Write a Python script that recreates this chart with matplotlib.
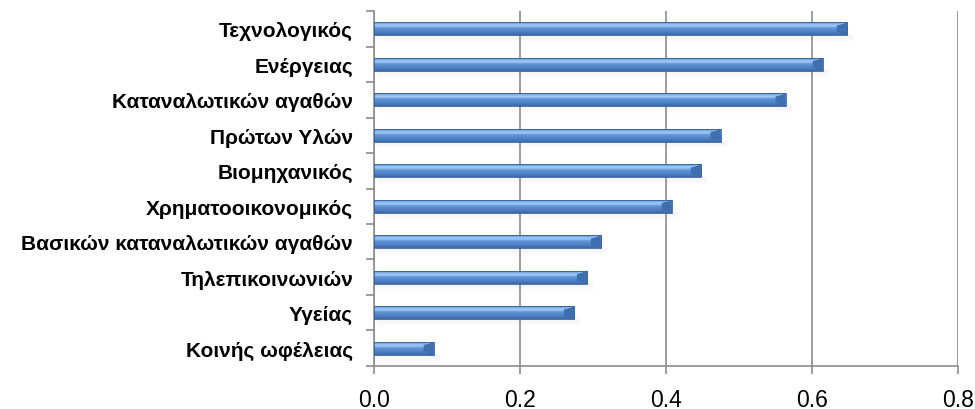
import numpy as np
import matplotlib
matplotlib.use("Agg")
import matplotlib.pyplot as plt
from matplotlib.colors import LinearSegmentedColormap
from matplotlib.patches import Polygon

# sectors, top to bottom
sectors = ["Τεχνολογικός", "Ενέργειας", "Καταναλωτικών αγαθών", "Πρώτων Υλών",
           "Βιομηχανικός", "Χρηματοοικονομικός", "Βασικών καταναλωτικών αγαθών",
           "Τηλεπικοινωνιών", "Υγείας", "Κοινής ωφέλειας"]
values = [0.648, 0.615, 0.564, 0.475, 0.448, 0.408, 0.311, 0.292, 0.274, 0.082]
xticks = [0.0, 0.2, 0.4, 0.6, 0.8]

plt.rcParams["font.family"] = ["Liberation Sans", "DejaVu Sans"]

fig = plt.figure(figsize=(9.75, 4.1), dpi=100, facecolor="white")
ax = fig.add_axes([0.3836, 0.1049, 0.599, 0.8658])

n = len(sectors)
ypos = np.arange(n)[::-1]          # first sector at the top
h = 0.36

# vertical shading for the bevelled bars: light top edge, bright highlight, dark bottom
bar_cmap = LinearSegmentedColormap.from_list(
    "bar", [(0.0, "#3b67a3"), (0.18, "#4a7cc0"), (0.55, "#5f95d8"),
            (0.72, "#a6cdf6"), (0.86, "#86b4ea"), (1.0, "#5b8ccc")])
grad = np.linspace(0, 1, 64).reshape(-1, 1)

for y, v in zip(ypos, values):
    # soft drop shadow under each bar
    for k in range(6):
        off = 0.03 + k * 0.035
        ax.add_patch(plt.Rectangle((0.004, y - h / 2 - off), v + 0.004, 0.04,
                                   color="#777777", alpha=0.08 * (6 - k) / 6,
                                   lw=0, zorder=2))
    ax.imshow(grad, cmap=bar_cmap, origin="lower", aspect="auto",
              extent=[0, v, y - h / 2, y + h / 2], zorder=3, interpolation="bilinear")
    # bevelled right end
    b = 0.014
    ax.add_patch(Polygon([[v - b, y + h / 2 - 0.09], [v, y + h / 2], [v, y - h / 2],
                          [v - b, y - h / 2 + 0.09]], closed=True,
                         color="#3f6fae", lw=0, zorder=4))
    ax.add_patch(Polygon([[v - b, y + h / 2 - 0.09], [v, y + h / 2],
                          [v - 0.006, y + h / 2]], closed=True,
                         color="#8dbbee", lw=0, zorder=4))
    ax.add_patch(plt.Rectangle((0, y - h / 2), v, h, fill=False,
                               ec="#37609a", lw=0.6, zorder=5))

ax.set_xlim(0, 0.8)
ax.set_ylim(-0.5, n - 0.5)

ax.set_xticks(xticks)
ax.set_xticklabels([f"{t:.1f}" for t in xticks], fontsize=16.5)
ax.tick_params(axis="x", direction="out", length=6, width=1.2, color="#8c8c8c", pad=10)

ax.set_yticks(ypos)
ax.set_yticklabels(sectors, fontsize=15, fontweight="bold")
ax.set_yticks(np.arange(n + 1) - 0.5, minor=True)
ax.tick_params(axis="y", which="major", length=0, pad=15)
ax.tick_params(axis="y", which="minor", direction="out", length=6, width=1.2, color="#8c8c8c")

ax.grid(axis="x", color="#8c8c8c", lw=1.2, zorder=1)
ax.set_axisbelow(True)
for side in ("top", "right"):
    ax.spines[side].set_visible(False)
for side in ("left", "bottom"):
    ax.spines[side].set_color("#8c8c8c")
    ax.spines[side].set_linewidth(1.2)

fig.savefig("out.png", dpi=100)
